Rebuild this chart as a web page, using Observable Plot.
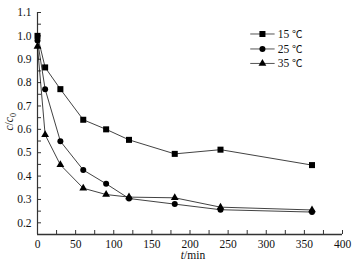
<!DOCTYPE html>
<html>
<head>
<meta charset="utf-8">
<script src="https://cdn.jsdelivr.net/npm/d3@7"></script>
<script src="https://cdn.jsdelivr.net/npm/@observablehq/plot@0.6"></script>
<style>
  html, body { margin: 0; padding: 0; background: #fff; }
  #chart { width: 360px; height: 271px; }
</style>
</head>
<body>
<div id="chart"></div>
<script>
// ---- data ----
const times = [0, 10, 30, 60, 90, 120, 180, 240, 360];
const c15 = [1.0, 0.865, 0.772, 0.641, 0.60, 0.555, 0.495, 0.513, 0.447];
const c25 = [0.98, 0.772, 0.549, 0.426, 0.367, 0.304, 0.28, 0.256, 0.246];
const c35 = [0.955, 0.577, 0.448, 0.348, 0.321, 0.31, 0.307, 0.267, 0.255];
const seriesNames = ["15 ℃", "25 ℃", "35 ℃"];
const seriesSymbols = ["square", "circle", "triangle"];
const seriesR = [3.4, 3.0, 2.9];
const xTicks = [0, 25, 50, 75, 100, 125, 150, 175, 200, 225, 250, 275, 300, 325, 350, 375, 400];
const yTicks = [0.2, 0.25, 0.3, 0.35, 0.4, 0.45, 0.5, 0.55, 0.6, 0.65, 0.7, 0.75, 0.8, 0.85, 0.9, 0.95, 1.0, 1.05, 1.1];
// legend placement (data units)
const legendLineX = [279, 311];
const legendMarkX = 295;
const legendTextX = 315;
const legendY = [1.008, 0.944, 0.882];

const allSeries = [c15, c25, c35];
const data = allSeries.flatMap((vals, s) =>
  times.map((t, i) => ({t, c: vals[i], s}))
);
const legend = seriesNames.map((name, s) => ({name, s, y: legendY[s]}));

const marks = [];
// axis lines
marks.push(Plot.ruleY([0.15], {stroke: "#333", strokeWidth: 1.6}));
marks.push(Plot.ruleX([0], {stroke: "#333", strokeWidth: 1.2}));
// ticks & labels
marks.push(Plot.axisX({
  ticks: xTicks, tickSize: -4, tickPadding: 9, stroke: "#333",
  tickFormat: d => (d % 50 === 0 ? String(d) : ""), label: null
}));
marks.push(Plot.axisY({
  ticks: yTicks, tickSize: -4, tickPadding: 10, stroke: "#333",
  tickFormat: d => (Math.round(d * 100) % 10 === 0 ? d.toFixed(1) : ""), label: null
}));
// series
allSeries.forEach((vals, s) => {
  const d = data.filter(p => p.s === s);
  marks.push(Plot.line(d, {x: "t", y: "c", stroke: "#111", strokeWidth: 0.8}));
  marks.push(Plot.dot(d, {x: "t", y: "c", symbol: () => seriesSymbols[s], r: seriesR[s], fill: "#000", stroke: "none"}));
});
// legend
legend.forEach(l => {
  marks.push(Plot.link([l], {x1: legendLineX[0], x2: legendLineX[1], y1: "y", y2: "y", stroke: "#555", strokeWidth: 1}));
  marks.push(Plot.dot([l], {x: legendMarkX, y: "y", symbol: () => seriesSymbols[l.s], r: seriesR[l.s], fill: "#000", stroke: "none"}));
  marks.push(Plot.text([l], {x: legendTextX, y: "y", text: "name", textAnchor: "start", fill: "#111"}));
});
// axis titles
marks.push(Plot.text(["c/c0"], {frameAnchor: "left", rotate: -90, dx: -28, dy: 7, fill: "#111"}));
marks.push(Plot.text(["t/min"], {frameAnchor: "bottom", dy: 24, dx: 3, fill: "#111"}));

const chart = Plot.plot({
  width: 360,
  height: 271,
  marginLeft: 37,
  marginRight: 18,
  marginTop: 12,
  marginBottom: 37,
  x: {domain: [0, 400]},
  y: {domain: [0.15, 1.1]},
  style: {fontFamily: "'Liberation Serif', serif", fontSize: "11.5px", background: "#fff", color: "#111"},
  marks
});

// rich text for axis titles and legend
d3.select(chart).selectAll("text").each(function() {
  const t = this.textContent;
  const s = d3.select(this);
  if (t === "c/c0") {
    this.textContent = "";
    s.append("tspan").attr("font-style", "italic").text("c");
    s.append("tspan").text("/");
    s.append("tspan").attr("font-style", "italic").text("c");
    s.append("tspan").attr("font-size", "8px").attr("dy", "3").text("0");
  } else if (t === "t/min") {
    this.textContent = "";
    s.append("tspan").attr("font-style", "italic").text("t");
    s.append("tspan").text("/min");
  } else if (seriesNames.includes(t)) {
    const num = t.replace(" ℃", "");
    this.textContent = "";
    s.append("tspan").text(num + " ");
    s.append("tspan").attr("font-family", "'Noto Sans CJK SC'").attr("font-size", "10.5px").text("℃");
  }
});

document.getElementById("chart").appendChild(chart);
</script>
</body>
</html>
